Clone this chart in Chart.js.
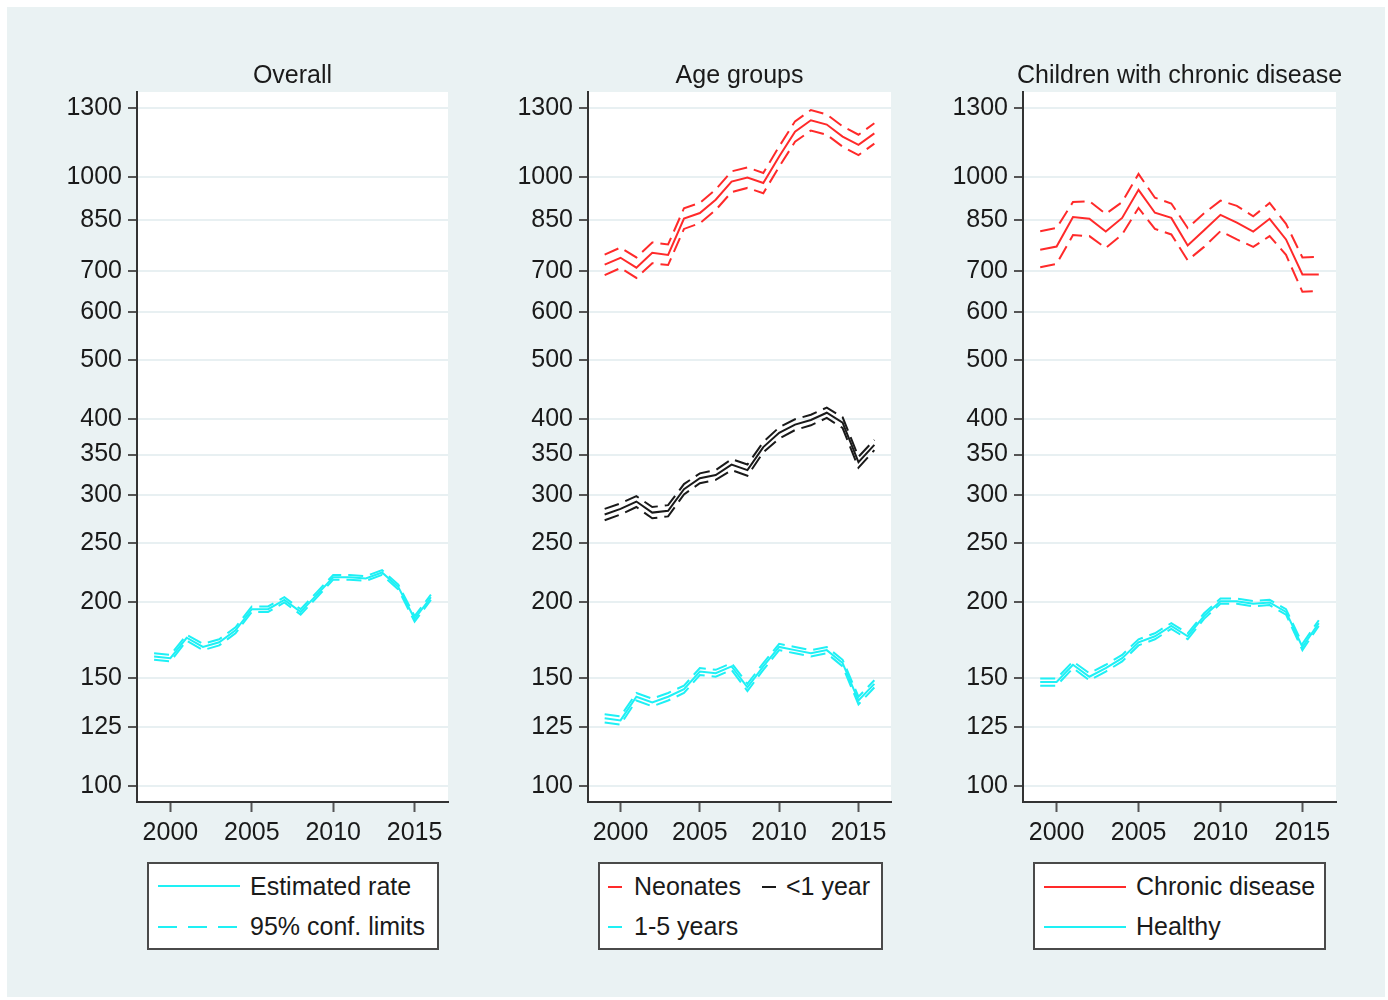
<!DOCTYPE html>
<html>
<head>
<meta charset="utf-8">
<script src="https://cdn.jsdelivr.net/npm/chart.js@4.4.1/dist/chart.umd.min.js"></script>
<style>
  body { margin: 0; background: #fff; font-family: "Liberation Sans", Arial, sans-serif; }
  #page { position: relative; width: 1388px; height: 1000px; background: #fff; }
  #bg { position: absolute; left: 7px; top: 7px; width: 1378px; height: 990px; background: #eaf2f3; }
  canvas { position: absolute; }
  .legend { position: absolute; top: 862px; height: 84px; background: #fff; border: 2px solid #4a4a4a; }
  .legend .item { position: absolute; font-size: 25px; color: #1a1a1a; line-height: 28px; white-space: nowrap; }
  .legend .swatch { position: absolute; height: 2px; }
</style>
</head>
<body>
<div id="page">
  <div id="bg"></div>
  <canvas id="c1" width="430" height="830" style="left:30px;top:30px"></canvas>
  <canvas id="c2" width="430" height="830" style="left:480px;top:30px"></canvas>
  <canvas id="c3" width="445" height="830" style="left:915px;top:30px"></canvas>

  <div class="legend" style="left:147px;width:288px">
    <div class="swatch" style="left:9px;top:21px;width:82px;background:#1ef0f5"></div>
    <div class="item" style="left:101px;top:8px">Estimated rate</div>
    <div class="swatch" style="left:9px;top:62px;width:80px;background:repeating-linear-gradient(to right,#1ef0f5 0 19px,transparent 19px 30px)"></div>
    <div class="item" style="left:101px;top:48px">95% conf. limits</div>
  </div>
  <div class="legend" style="left:598px;width:281px">
    <div class="swatch" style="left:8px;top:22px;width:14px;background:#ff2a2a"></div>
    <div class="item" style="left:34px;top:8px">Neonates</div>
    <div class="swatch" style="left:162px;top:22px;width:14px;background:#1a1a1a"></div>
    <div class="item" style="left:186px;top:8px">&lt;1 year</div>
    <div class="swatch" style="left:8px;top:62px;width:14px;background:#1ef0f5"></div>
    <div class="item" style="left:34px;top:48px">1-5 years</div>
  </div>
  <div class="legend" style="left:1033px;width:289px">
    <div class="swatch" style="left:9px;top:22px;width:82px;background:#ff2a2a"></div>
    <div class="item" style="left:101px;top:8px">Chronic disease</div>
    <div class="swatch" style="left:9px;top:62px;width:82px;background:#1ef0f5"></div>
    <div class="item" style="left:101px;top:48px">Healthy</div>
  </div>
</div>

<script>
// yearly rates
const years = [1999, 2000, 2001, 2002, 2003, 2004, 2005, 2006, 2007, 2008, 2009, 2010, 2011, 2012, 2013, 2014, 2015, 2016];
const xTicks = [2000, 2005, 2010, 2015];
const yTicks = [100, 125, 150, 200, 250, 300, 350, 400, 500, 600, 700, 850, 1000, 1300];

const overallRate  = [163, 162, 175, 169, 172, 180, 195, 195, 202, 193, 206, 220, 220, 219, 224, 212, 188, 204];
const overallLower = [161, 160, 173, 167, 170, 178, 193, 193, 200, 191, 204, 218, 218, 217, 222, 210, 186, 202];
const overallUpper = [165, 164, 177, 171, 174, 182, 197, 197, 204, 195, 208, 222, 222, 221, 226, 214, 190, 206];

const neonatesRate  = [718, 737, 710, 751, 745, 855, 873, 918, 983, 998, 978, 1081, 1188, 1240, 1220, 1166, 1130, 1180];
const neonatesLower = [690, 709, 683, 722, 717, 822, 840, 883, 945, 960, 941, 1040, 1143, 1193, 1174, 1122, 1087, 1135];
const neonatesUpper = [746, 766, 738, 781, 775, 889, 907, 954, 1022, 1037, 1016, 1123, 1235, 1289, 1268, 1212, 1174, 1226];

const infantRate  = [279, 285, 293, 281, 283, 307, 320, 324, 337, 330, 360, 380, 392, 399, 410, 395, 340, 363];
const infantLower = [273, 279, 287, 275, 277, 301, 314, 318, 330, 323, 353, 372, 384, 391, 402, 387, 333, 356];
const infantUpper = [285, 291, 299, 287, 289, 313, 326, 330, 344, 337, 367, 388, 400, 407, 418, 403, 347, 370];

const childRate  = [129, 128, 140, 137, 140, 144, 154, 153, 157, 145, 157, 169, 167, 165, 167, 159, 138, 147];
const childLower = [127, 126, 138, 135, 138, 142, 152, 151, 155, 143, 155, 167, 165, 163, 165, 157, 136, 145];
const childUpper = [131, 130, 142, 139, 142, 146, 156, 155, 159, 147, 159, 171, 169, 167, 169, 161, 140, 149];

const chronicRate  = [760, 769, 860, 854, 814, 857, 953, 874, 857, 772, 818, 867, 842, 814, 854, 790, 692, 692];
const chronicLower = [711, 720, 803, 800, 765, 805, 890, 822, 805, 730, 768, 815, 790, 768, 800, 745, 648, 650];
const chronicUpper = [815, 825, 910, 913, 870, 910, 1012, 925, 905, 825, 872, 915, 897, 862, 907, 838, 738, 740];

const healthyRate  = [148, 148, 158, 151, 156, 162, 172, 176, 183, 176, 190, 201, 201, 199, 200, 193, 169, 185];
const healthyLower = [146, 146, 156, 149, 154, 160, 170, 174, 181, 174, 188, 199, 199, 197, 198, 191, 167, 183];
const healthyUpper = [150, 150, 160, 153, 158, 164, 174, 178, 185, 178, 192, 203, 203, 201, 202, 195, 171, 187];

const CYAN = '#1ef0f5';
const RED = '#ff2a2a';
const BLACK = '#1a1a1a';
const FONT = '"Liberation Sans", Arial, sans-serif';

function pts(arr) {
    return years.map((yr, i) => ({ x: yr, y: arr[i] }));
}

function est(arr, color) {
    return { data: pts(arr), borderColor: color, borderWidth: 2, pointRadius: 0, tension: 0, fill: false };
}

function ci(arr, color) {
    return { ...est(arr, color), borderDash: [15, 7] };
}

// plot region white + panel title centred over the plot (may run past it, like Stata)
const panelDecor = {
    id: 'panelDecor',
    beforeDraw(chart) {
        const a = chart.chartArea;
        const ctx = chart.ctx;
        ctx.save();
        ctx.fillStyle = '#ffffff';
        ctx.fillRect(a.left, a.top, a.right - a.left, a.bottom - a.top);
        ctx.restore();
    },
    afterDraw(chart, args, opts) {
        const a = chart.chartArea;
        const ctx = chart.ctx;
        ctx.save();
        ctx.fillStyle = '#1a1a1a';
        ctx.font = `25px ${FONT}`;
        ctx.textAlign = 'center';
        ctx.textBaseline = 'middle';
        ctx.fillText(opts.text, (a.left + a.right) / 2, a.top - 16);
        ctx.restore();
    }
};

function makeChart(id, title, datasets, yWidth, rightPad) {
    return new Chart(document.getElementById(id), {
        type: 'line',
        data: { datasets },
        options: {
            responsive: false,
            animation: false,
            layout: { padding: { top: 62, right: rightPad, bottom: 0, left: 0 } },
            plugins: {
                legend: { display: false },
                tooltip: { enabled: false },
                title: { display: false },
                panelDecor: { text: title }
            },
            scales: {
                x: {
                    type: 'linear',
                    min: 1997.95,
                    max: 2017.05,
                    afterBuildTicks: (s) => { s.ticks = xTicks.map((v) => ({ value: v })); },
                    afterFit: (s) => { s.height = 58; },
                    ticks: {
                        color: '#1a1a1a',
                        padding: 9,
                        autoSkip: false,
                        maxRotation: 0,
                        font: { family: FONT, size: 25, lineHeight: 1 },
                        callback: (v) => String(v)
                    },
                    grid: { drawOnChartArea: false, drawTicks: true, tickLength: 10, tickColor: '#555', tickWidth: 2 },
                    border: { display: true, color: '#333', width: 2 }
                },
                y: {
                    type: 'logarithmic',
                    min: 94,
                    max: 1380,
                    afterBuildTicks: (s) => { s.ticks = yTicks.map((v) => ({ value: v })); },
                    afterFit: (s) => { s.width = yWidth; },
                    ticks: {
                        color: '#1a1a1a',
                        padding: 6,
                        autoSkip: false,
                        font: { family: FONT, size: 25, lineHeight: 1 },
                        callback: (v) => String(v)
                    },
                    grid: { color: '#e8f0f2', lineWidth: 2, tickLength: 9, tickColor: '#555', tickWidth: 2 },
                    border: { display: true, color: '#333', width: 2 }
                }
            }
        },
        plugins: [panelDecor]
    });
}

makeChart('c1', 'Overall', [
    ci(overallLower, CYAN), ci(overallUpper, CYAN), est(overallRate, CYAN)
], 107, 12);

makeChart('c2', 'Age groups', [
    ci(neonatesLower, RED), ci(neonatesUpper, RED), est(neonatesRate, RED),
    ci(infantLower, BLACK), ci(infantUpper, BLACK), est(infantRate, BLACK),
    ci(childLower, CYAN), ci(childUpper, CYAN), est(childRate, CYAN)
], 108, 19);

makeChart('c3', 'Children with chronic disease', [
    ci(chronicLower, RED), ci(chronicUpper, RED), est(chronicRate, RED),
    ci(healthyLower, CYAN), ci(healthyUpper, CYAN), est(healthyRate, CYAN)
], 108, 24);
</script>
</body>
</html>
